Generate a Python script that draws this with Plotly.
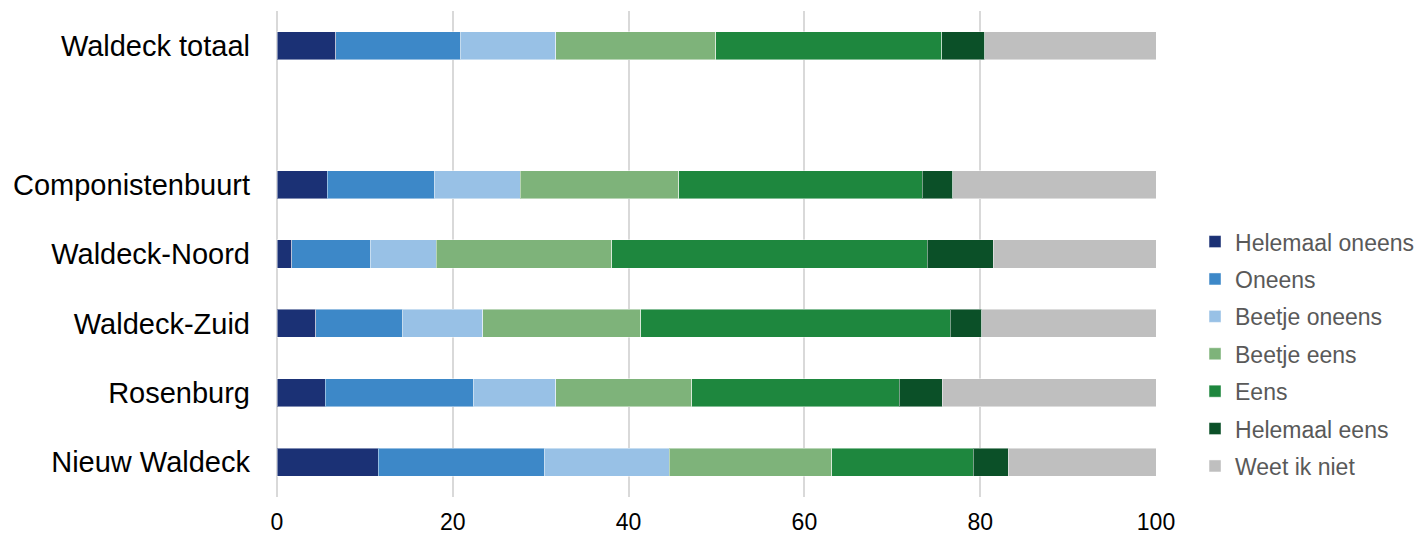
import plotly.graph_objects as go

categories = ["Waldeck totaal", " ", "Componistenbuurt", "Waldeck-Noord",
              "Waldeck-Zuid", "Rosenburg", "Nieuw Waldeck"]
bar_categories = ["Waldeck totaal", "Componistenbuurt", "Waldeck-Noord",
                  "Waldeck-Zuid", "Rosenburg", "Nieuw Waldeck"]

series_names = ["Helemaal oneens", "Oneens", "Beetje oneens", "Beetje eens",
                "Eens", "Helemaal eens", "Weet ik niet"]

helemaal_oneens = [6.7, 5.7, 1.7, 4.4, 5.5, 11.5]
oneens = [14.2, 12.2, 8.9, 9.9, 16.8, 18.9]
beetje_oneens = [10.8, 9.8, 7.5, 9.1, 9.4, 14.2]
beetje_eens = [18.2, 18.0, 20.0, 18.0, 15.5, 18.5]
eens = [25.7, 27.7, 35.9, 35.2, 23.6, 16.1]
helemaal_eens = [4.9, 3.5, 7.5, 3.6, 4.9, 4.0]
weet_ik_niet = [19.5, 23.1, 18.5, 19.8, 24.3, 16.8]

series_values = [helemaal_oneens, oneens, beetje_oneens, beetje_eens,
                 eens, helemaal_eens, weet_ik_niet]
colors = ["#1b3175", "#3d88c8", "#98c1e6", "#7eb37a",
          "#1e873e", "#0b5028", "#bfbfbf"]

x_ticks = [0, 20, 40, 60, 80, 100]

fig = go.Figure()
for name, vals, col in zip(series_names, series_values, colors):
    fig.add_trace(go.Bar(
        y=bar_categories, x=vals, name=name, orientation="h",
        marker=dict(color=col, line=dict(color="rgba(255,255,255,0.45)", width=1)),
        legendgroup=name,
    ))

fig.update_layout(
    barmode="stack",
    bargap=0.596,
    width=1422, height=536,
    margin=dict(l=277, r=266, t=11, b=39, autoexpand=False),
    paper_bgcolor="white", plot_bgcolor="white",
    font=dict(family="Liberation Sans, Arial, sans-serif"),
    xaxis=dict(
        range=[0, 100], tickvals=x_ticks, ticktext=[str(t) for t in x_ticks],
        showgrid=True, gridcolor="#d9d9d9", gridwidth=2,
        zeroline=True, zerolinecolor="#d9d9d9", zerolinewidth=2,
        showline=False, ticks="", ticklabelstandoff=9,
        tickfont=dict(size=23, color="#000000"),
        fixedrange=True, automargin=False,
    ),
    yaxis=dict(
        type="category",
        categoryorder="array",
        categoryarray=list(reversed(categories)),
        range=[-0.5, len(categories) - 0.5],
        showgrid=False, showline=False, ticks="",
        ticklabelstandoff=26,
        tickfont=dict(size=29, color="#000000"),
        fixedrange=True, automargin=False,
    ),
    legend=dict(
        x=1.0444, xanchor="left", y=0.294, yanchor="middle",
        traceorder="grouped", tracegroupgap=4.5,
        font=dict(size=23, color="#595959"),
        itemwidth=30,
        bgcolor="rgba(0,0,0,0)",
    ),
    showlegend=True,
)

fig.write_html("out.html", config={"displayModeBar": False},
               post_script="document.body.style.margin='0';")
